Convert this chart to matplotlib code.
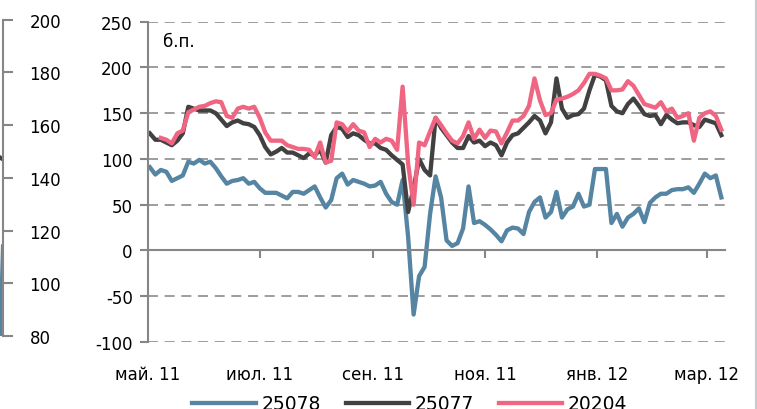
import numpy as np
import pandas as pd
import matplotlib
matplotlib.use('Agg')
import matplotlib.pyplot as plt
import matplotlib.dates as mdates
from matplotlib.lines import Line2D

plt.rcParams['axes.unicode_minus'] = False

# data, every 3 days from 2 May 2011
dates = pd.date_range('2011-05-02', periods=105, freq='3D')

s25078 = [91, 83, 88, 86, 76, 79, 82, 97, 95, 99,
          95, 97, 90, 81, 73, 76, 77, 79, 73, 75,
          68, 63, 63, 63, 60, 57, 64, 64, 62, 66,
          70, 58, 47, 55, 79, 84, 72, 77, 75, 73,
          70, 71, 75, 62, 53, 50, 77, 15, -70, -28,
          -18, 40, 81, 58, 11, 5, 8, 24, 70, 30,
          32, 28, 23, 17, 10, 22, 25, 24, 18, 42,
          53, 58, 36, 42, 64, 36, 45, 48, 62, 48,
          50, 89, 89, 89, 30, 40, 26, 36, 40, 46,
          31, 52, 58, 62, 62, 66, 67, 67, 69, 63,
          73, 84, 79, 82, 58]

s25077 = [128, 121, 121, 118, 115, 120, 128, 157, 155, 153,
          153, 153, 150, 143, 136, 140, 142, 139, 138, 135,
          126, 113, 105, 108, 112, 107, 107, 104, 101, 106,
          104, 110, 96, 126, 135, 133, 124, 128, 126, 121,
          117, 117, 112, 110, 104, 99, 94, 42, 68, 100,
          88, 82, 145, 134, 126, 118, 112, 112, 125, 118,
          120, 114, 118, 115, 104, 118, 126, 128, 134, 140,
          147, 142, 128, 140, 188, 155, 145, 148, 149, 155,
          175, 192, 190, 186, 158, 152, 150, 160, 166, 158,
          149, 147, 148, 138, 148, 143, 139, 140, 140, 137,
          135, 143, 141, 139, 126]

s20204 = [np.nan, np.nan, 123, 121, 117, 128, 131, 151, 154, 157,
          158, 161, 163, 162, 147, 145, 155, 157, 155, 157,
          145, 129, 120, 120, 120, 115, 113, 111, 111, 110,
          102, 118, 96, 98, 140, 138, 130, 138, 131, 129,
          113, 122, 118, 122, 120, 110, 179, 95, 50, 118,
          115, 130, 145, 137, 128, 120, 117, 125, 140, 122,
          132, 123, 131, 130, 117, 129, 142, 142, 147, 158,
          188, 164, 148, 150, 165, 166, 168, 171, 175, 183,
          193, 193, 191, 188, 175, 175, 176, 185, 180, 170,
          160, 158, 156, 162, 152, 155, 145, 147, 150, 120,
          145, 150, 152, 147, 132]

tick_dates = ['2011-05-01', '2011-07-01', '2011-09-01', '2011-11-01', '2012-01-01', '2012-03-01']
tick_labels = ['май. 11', 'июл. 11', 'сен. 11', 'ноя. 11', 'янв. 12', 'мар. 12']

# end of the neighbouring chart, cut off at the left edge
left_x = [0, 1]
left_dark = [148, 147]
left_blue = [60, 114]

c_blue = '#5585a3'
c_dark = '#414141'
c_pink = '#f06581'
c_axis = '#868686'

fig = plt.figure(figsize=(7.57, 4.10), dpi=100)

# main chart
ax = fig.add_axes([148/757, 1-343/410, 577/757, 320.3/410])
ax.plot(dates, s25078, color=c_blue, lw=3.1, label='25078', solid_joinstyle='round')
ax.plot(dates, s25077, color=c_dark, lw=3.1, label='25077', solid_joinstyle='round')
ax.plot(dates, s20204, color=c_pink, lw=3.1, label='20204', solid_joinstyle='round')

ax.set_ylim(-100, 250)
ax.set_yticks(range(-100, 251, 50))
ax.set_xlim(pd.Timestamp('2011-05-01'), pd.Timestamp('2012-03-11'))
ax.set_xticks([mdates.date2num(pd.Timestamp(d)) for d in tick_dates])

ax.yaxis.grid(True, color='#8c8c8c', linestyle=(0, (6, 4)), lw=1.2)
ax.set_axisbelow(True)

for s in ['top', 'right']:
    ax.spines[s].set_visible(False)
ax.spines['bottom'].set_position(('data', 0))
ax.spines['bottom'].set_color(c_axis)
ax.spines['left'].set_color(c_axis)
ax.spines['bottom'].set_linewidth(1.5)
ax.spines['left'].set_linewidth(1.5)

ax.tick_params(axis='x', direction='out', length=6, width=1.5, color=c_axis, labelbottom=False)
ax.tick_params(axis='y', direction='out', length=6, width=1.5, color=c_axis, pad=5, labelsize=12)

for d, lab in zip(tick_dates, tick_labels):
    ax.annotate(lab, xy=(mdates.date2num(pd.Timestamp(d)), -0.1),
                xycoords=('data', 'axes fraction'), ha='center', va='center', fontsize=12)

ax.text(0.026, 0.94, 'б.п.', transform=ax.transAxes, fontsize=12, va='center')

# partial chart on the left
ax0 = fig.add_axes([3/757 - 0.2, 1-337/410, 0.2, 316.3/410])
ax0.plot(left_x, left_blue, color=c_blue, lw=3)
ax0.plot(left_x, left_dark, color=c_dark, lw=3)
ax0.set_xlim(-36, 1)
ax0.set_ylim(80, 200)
ax0.set_yticks(range(80, 201, 20))
for s in ['top', 'left', 'bottom']:
    ax0.spines[s].set_visible(False)
ax0.spines['right'].set_color(c_axis)
ax0.spines['right'].set_linewidth(1.5)
ax0.tick_params(axis='y', left=False, labelleft=False, right=True, labelright=True,
                direction='out', length=7, width=1.5, color=c_axis, pad=12, labelsize=12)
ax0.tick_params(axis='x', bottom=False, labelbottom=False)

# legend, cut by the bottom edge as in the source
fig.legend(loc='center', bbox_to_anchor=(0.5416, 1-405/410), ncol=3, frameon=False,
           fontsize=13.5, handlelength=3.4, handletextpad=0.3, columnspacing=1.3)

# frame line on the right
fig.add_artist(Line2D([755.5/757]*2, [0, 1], transform=fig.transFigure, color='#c6caca', lw=2.2))

plt.savefig('out.png', dpi=100)
